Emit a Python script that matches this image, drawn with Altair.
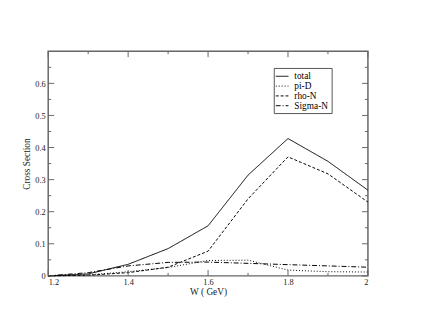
import altair as alt
import pandas as pd

W = [1.2, 1.3, 1.4, 1.5, 1.6, 1.7, 1.8, 1.9, 2.0]
total = [0.0, 0.006, 0.036, 0.085, 0.156, 0.314, 0.428, 0.357, 0.267]
piD = [0.0, 0.003, 0.013, 0.026, 0.048, 0.049, 0.018, 0.013, 0.012]
rhoN = [0.0, 0.002, 0.010, 0.027, 0.077, 0.240, 0.371, 0.318, 0.230]
sigmaN = [0.0, 0.010, 0.031, 0.042, 0.043, 0.039, 0.035, 0.031, 0.027]
series_names = ["total", "pi-D", "rho-N", "Sigma-N"]

x_major = [1.2, 1.4, 1.6, 1.8, 2.0]
x_minor = [1.3, 1.5, 1.7, 1.9]
y_major = [0.0, 0.1, 0.2, 0.3, 0.4, 0.5, 0.6]
y_minor = [0.05, 0.15, 0.25, 0.35, 0.45, 0.55, 0.65]

rows = []
for name, vals in zip(series_names, [total, piD, rhoN, sigmaN]):
    for w, v in zip(W, vals):
        rows.append({"W": w, "val": v, "series": name})
df = pd.DataFrame(rows)

FRAME = "#666666"
xs = alt.Scale(domain=[1.2, 2.0], nice=False, zero=False)
ys = alt.Scale(domain=[0, 0.7], nice=False)
x_axis = alt.Axis(values=x_major, format="~g", title="W ( GeV)", ticks=False,
                  domain=False, grid=False, labelPadding=2, titlePadding=1,
                  labelOverlap=False)
y_axis = alt.Axis(values=y_major, format="~g", title="Cross Section", ticks=False,
                  domain=False, grid=False, labelPadding=3, titlePadding=3,
                  labelOverlap=False)

lines = alt.Chart(df).mark_line(strokeWidth=1, color="black").encode(
    x=alt.X("W:Q", scale=xs, axis=x_axis, title="W ( GeV)"),
    y=alt.Y("val:Q", scale=ys, axis=y_axis, title="Cross Section"),
    strokeDash=alt.StrokeDash(
        "series:N",
        scale=alt.Scale(domain=series_names,
                        range=[[1, 0], [1, 2], [3, 2], [5, 2, 1, 2]]),
        legend=alt.Legend(title=None, orient="none", legendX=230, legendY=17,
                          symbolType="M-1.4,0H1.4", symbolSize=85, symbolStrokeWidth=1,
                          symbolStrokeColor="black", symbolFillColor="transparent",
                          labelFont="Liberation Serif", labelFontSize=9.5, labelColor="black",
                          strokeColor="#555555", padding=3, rowPadding=0,
                          labelOffset=7, fillColor="white")),
)


def tick_layer(xv, yv, x2off=None, y2off=None):
    d = pd.DataFrame({"W": xv, "val": yv})
    enc = dict(
        x=alt.X("W:Q", scale=xs, axis=x_axis, title="W ( GeV)"),
        y=alt.Y("val:Q", scale=ys, axis=y_axis, title="Cross Section"),
        x2=alt.X2("W:Q"), y2=alt.Y2("val:Q"),
    )
    mk = dict(color=FRAME, strokeWidth=1)
    if x2off is not None:
        mk["x2Offset"] = x2off
    else:
        mk["y2Offset"] = y2off
    return alt.Chart(d).mark_rule(**mk).encode(**enc)


layers = [lines]
layers.append(tick_layer([1.2] * len(y_major), y_major, x2off=6))
layers.append(tick_layer([1.2] * len(y_minor), y_minor, x2off=3))
layers.append(tick_layer([2.0] * len(y_major), y_major, x2off=-6))
layers.append(tick_layer([2.0] * len(y_minor), y_minor, x2off=-3))
layers.append(tick_layer(x_major, [0.0] * len(x_major), y2off=-6))
layers.append(tick_layer(x_minor, [0.0] * len(x_minor), y2off=-3))
layers.append(tick_layer(x_major, [0.7] * len(x_major), y2off=6))
layers.append(tick_layer(x_minor, [0.7] * len(x_minor), y2off=3))

chart = alt.layer(*layers).properties(
    width=326, height=229,
    autosize=alt.AutoSizeParams(type="none"),
    padding={"left": 41, "top": 41, "right": 48, "bottom": 49},
).configure(font="Liberation Serif").configure_view(
    stroke=FRAME, strokeWidth=1.5
).configure_axis(
    labelFont="Liberation Serif", labelFontSize=8.5, labelColor="#222222",
    titleFont="Liberation Serif", titleFontSize=9.5, titleFontWeight="normal",
    titleColor="#222222",
)

chart.save("out.html", embed_options={"renderer": "svg", "actions": False})
